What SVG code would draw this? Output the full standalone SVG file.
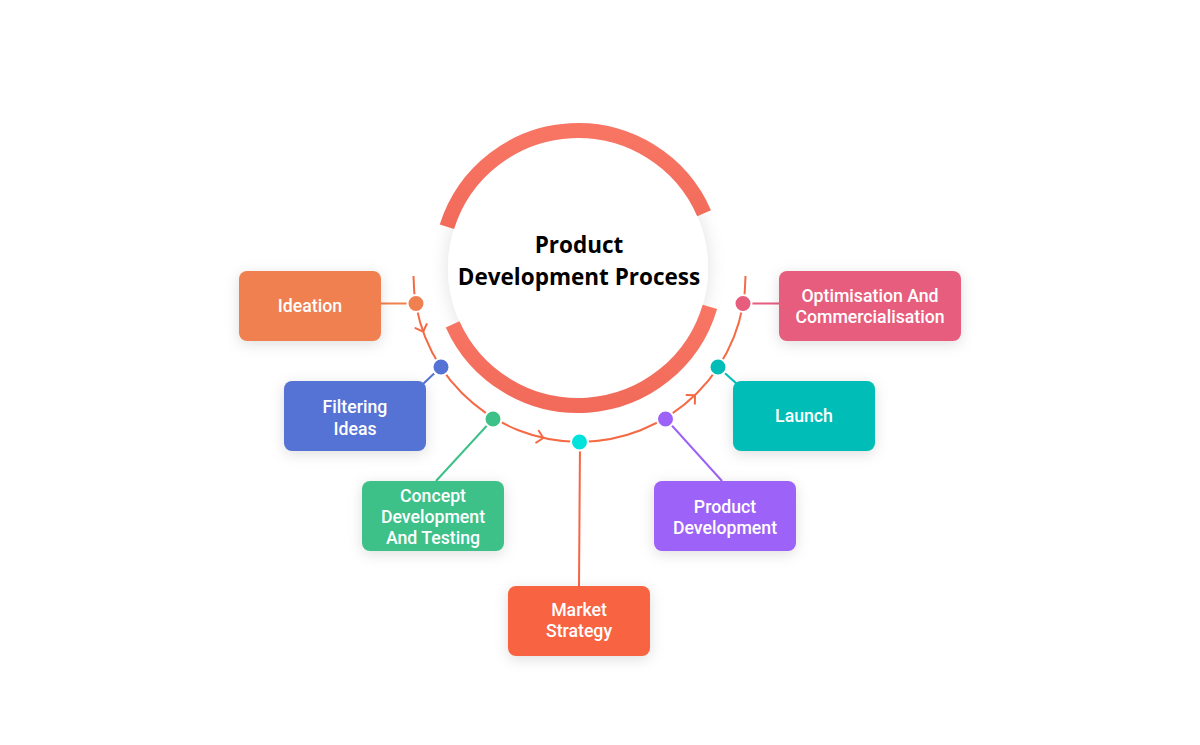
<svg xmlns="http://www.w3.org/2000/svg" width="1200" height="745" viewBox="0 0 1200 745">
<defs>
<filter id="sh" x="-30%" y="-30%" width="160%" height="160%">
<feDropShadow dx="0" dy="3" stdDeviation="7" flood-color="#000" flood-opacity="0.13"/>
</filter>
<filter id="shc" x="-20%" y="-20%" width="140%" height="140%">
<feDropShadow dx="0" dy="0" stdDeviation="9" flood-color="#000" flood-opacity="0.12"/>
</filter>
<linearGradient id="ring" x1="0" y1="0" x2="0" y2="1">
<stop offset="0" stop-color="#F87564"/>
<stop offset="1" stop-color="#F26B5A"/>
</linearGradient>
</defs>
<style>
.box{filter:url(#sh)}
.lbl{font-family:Roboto,"Liberation Sans",sans-serif;font-weight:500;font-size:17.7px;fill:#fff;text-anchor:middle}
.title{font-family:"Open Sans","Noto Sans",sans-serif;font-weight:700;font-size:22.5px;fill:#000;text-anchor:middle}
.dot{stroke:#fff;stroke-width:2}
.track{fill:none;stroke:#F56A45;stroke-width:2}
.chev{fill:none;stroke:#F56A45;stroke-width:2;stroke-linecap:round;stroke-linejoin:round}
.ln{stroke-width:2;fill:none}
</style>
<rect width="1200" height="745" fill="#fff"/>

<g id="center">
<circle cx="578" cy="268" r="130" fill="#fff" filter="url(#shc)"/>
<path d="M 446.9 226.7 A 137.5 137.5 0 0 1 704.1 213.2" fill="none" stroke="url(#ring)" stroke-width="15"/>
<path d="M 709.9 306.8 A 137.5 137.5 0 0 1 452.6 324.4" fill="none" stroke="url(#ring)" stroke-width="15"/>
<text class="title" x="579" y="252.5">Product</text>
<text class="title" x="579" y="284.5">Development Process</text>
</g>

<g id="connectors">
<path class="track" d="M 413.5 276 A 166 166 0 0 0 745.5 276"/>
<path class="chev" transform="translate(423.1 331.7) rotate(70.4)" d="M -6 -6 L 0 0 L -6 6"/>
<path class="chev" transform="translate(543.3 438) rotate(12.6)" d="M -6 -6 L 0 0 L -6 6"/>
<path class="chev" transform="translate(695 395.2) rotate(-44.1)" d="M -6 -6 L 0 0 L -6 6"/>
<line class="ln" stroke="#F0804F" x1="381" y1="303.5" x2="416" y2="303.5"/>
<line class="ln" stroke="#5572D5" x1="441" y1="367" x2="423" y2="384"/>
<line class="ln" stroke="#3DC189" x1="493" y1="419" x2="436" y2="481"/>
<line class="ln" stroke="#F76543" x1="580" y1="442" x2="579" y2="587"/>
<line class="ln" stroke="#9D62F7" x1="666" y1="419" x2="722" y2="481"/>
<line class="ln" stroke="#00BEB7" x1="718" y1="367" x2="737" y2="384"/>
<line class="ln" stroke="#E65D7E" x1="743" y1="303.5" x2="780" y2="303.5"/>
</g>

<g id="ideation">
<rect class="box" x="239" y="271" width="142" height="70" rx="8" fill="#F0804F"/>
<text class="lbl" x="310" y="311.5">Ideation</text>
<circle class="dot" cx="416" cy="303.5" r="8.5" fill="#F0804F"/>
</g>

<g id="filtering">
<rect class="box" x="284" y="381" width="142" height="70" rx="8" fill="#5572D5"/>
<text class="lbl" x="355" y="412.5">Filtering</text>
<text class="lbl" x="355" y="434.5">Ideas</text>
<circle class="dot" cx="441" cy="367" r="8.5" fill="#5572D5"/>
</g>

<g id="concept">
<rect class="box" x="362" y="481" width="142" height="70" rx="8" fill="#3DC189"/>
<text class="lbl" x="433" y="501.5">Concept</text>
<text class="lbl" x="433" y="522.5">Development</text>
<text class="lbl" x="433" y="543.5">And Testing</text>
<circle class="dot" cx="493" cy="419" r="8.5" fill="#3DC189"/>
</g>

<g id="market">
<rect class="box" x="508" y="586" width="142" height="70" rx="8" fill="#F86442"/>
<text class="lbl" x="579" y="616">Market</text>
<text class="lbl" x="579" y="637">Strategy</text>
<circle class="dot" cx="579.5" cy="442" r="8.5" fill="#00E2DC"/>
</g>

<g id="product">
<rect class="box" x="654" y="481" width="142" height="70" rx="8" fill="#9D62F7"/>
<text class="lbl" x="725" y="512.5">Product</text>
<text class="lbl" x="725" y="533.5">Development</text>
<circle class="dot" cx="665.5" cy="419" r="8.5" fill="#9D62F7"/>
</g>

<g id="launch">
<rect class="box" x="733" y="381" width="142" height="70" rx="8" fill="#00BEB7"/>
<text class="lbl" x="804" y="422">Launch</text>
<circle class="dot" cx="718" cy="367" r="8.5" fill="#00BEB7"/>
</g>

<g id="optimisation">
<rect class="box" x="779" y="271" width="182" height="70" rx="8" fill="#E65D7E"/>
<text class="lbl" x="870" y="302">Optimisation And</text>
<text class="lbl" x="870" y="323">Commercialisation</text>
<circle class="dot" cx="743" cy="303.5" r="8.5" fill="#E65D7E"/>
</g>
</svg>
